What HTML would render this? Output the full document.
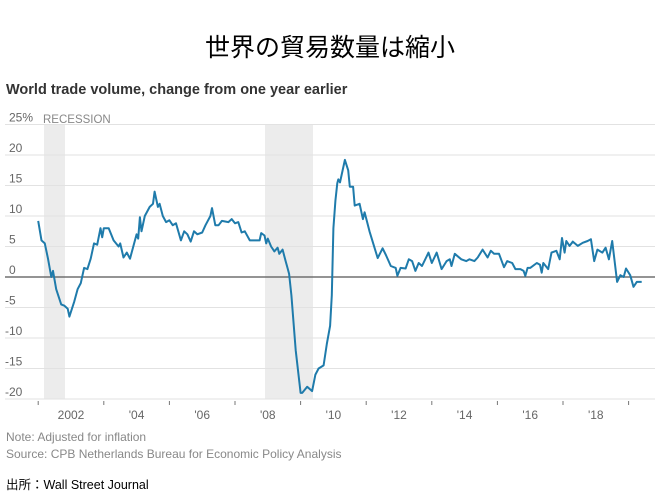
<!DOCTYPE html>
<html><head><meta charset="utf-8"><style>
body{margin:0;background:#fff;width:660px;height:495px;overflow:hidden;font-family:"Liberation Sans","Noto Sans CJK JP",sans-serif}
</style></head><body>
<svg id="s" width="660" height="495" xmlns="http://www.w3.org/2000/svg" font-family="Liberation Sans, Noto Sans CJK JP, sans-serif">
<text x="330" y="56" font-size="25" text-anchor="middle" fill="#000" font-family="Noto Sans CJK JP, sans-serif">世界の貿易数量は縮小</text>
<text x="6" y="94" font-size="14.5" font-weight="bold" fill="#333">World trade volume, change from one year earlier</text>
<rect x="44" y="125" width="21" height="274" fill="#ececec"/>
<rect x="265" y="125" width="48" height="274" fill="#ececec"/>
<g id="grid" stroke="#e2e2e2" stroke-width="1"></g>
<g id="lab" font-size="12" fill="#666"></g>
<text x="43" y="123" font-size="11.5" fill="#888">RECESSION</text>
<line x1="5" y1="277" x2="655" y2="277" stroke="#555" stroke-width="1.2"/>
<path id="p" fill="none" stroke="#1f7bab" stroke-width="2" stroke-linejoin="round"/>
<text x="6" y="441" font-size="12" fill="#888">Note: Adjusted for inflation</text>
<text x="6" y="458" font-size="12" fill="#888">Source: CPB Netherlands Bureau for Economic Policy Analysis</text>
<text x="6" y="489" font-size="12.5" fill="#000">出所：Wall Street Journal</text>
</svg>
<script>
var ns="http://www.w3.org/2000/svg";
function X(y){return 71+(y-2002)*32.8}
function Y(v){return 277-v*6.1}
var g=document.getElementById('grid'),l=document.getElementById('lab');
function el(p,t,a,txt){var e=document.createElementNS(ns,t);for(var k in a)e.setAttribute(k,a[k]);if(txt)e.textContent=txt;p.appendChild(e);}
[25,20,15,10,5,-5,-10,-15,-20].forEach(function(v){el(g,'line',{x1:5,x2:655,y1:Y(v),y2:Y(v)});});
[25,20,15,10,5,0,-5,-10,-15,-20].forEach(function(v){el(l,'text',{x:v<0?5:9,y:Y(v)-3},v==25?'25%':String(v));});
for(var yr=2001;yr<=2019;yr++){
 if(yr%2==0)el(l,'text',{x:X(yr),y:419,'text-anchor':'middle'},yr==2002?'2002':"'"+String(yr).slice(2));
 else el(l,'line',{x1:X(yr),x2:X(yr),y1:401,y2:405,stroke:'#777','stroke-width':1});}
var d=[[2001.0,9.2],[2001.1,6],[2001.2,5.5],[2001.3,3],[2001.4,0],[2001.45,1],[2001.55,-2],[2001.7,-4.5],[2001.8,-4.7],[2001.9,-5.2],[2001.95,-6.5],[2002.1,-4],[2002.2,-2],[2002.3,-1],[2002.4,1.5],[2002.5,1.3],[2002.6,3],[2002.7,5.5],[2002.8,5.3],[2002.9,8],[2002.95,6.5],[2003.0,8],[2003.15,8],[2003.3,6],[2003.45,5],[2003.5,5.5],[2003.6,3.2],[2003.7,4],[2003.8,3],[2003.9,5],[2004.0,7],[2004.05,6.3],[2004.1,9.8],[2004.15,7.5],[2004.25,10],[2004.4,11.5],[2004.5,12],[2004.55,14],[2004.65,11.5],[2004.7,12],[2004.8,10],[2004.9,9],[2005.0,9.3],[2005.1,8.5],[2005.2,8.8],[2005.35,6],[2005.45,7.5],[2005.55,7],[2005.65,5.8],[2005.75,7.5],[2005.85,7],[2006.0,7.3],[2006.1,8.5],[2006.25,10],[2006.3,11.3],[2006.4,8.5],[2006.5,8.5],[2006.6,9.2],[2006.8,9],[2006.9,9.5],[2007.0,8.8],[2007.1,9],[2007.2,7.3],[2007.3,7.5],[2007.45,6],[2007.6,6],[2007.75,6],[2007.8,7.2],[2007.9,6.8],[2007.95,5.5],
[2008.0,6.3],[2008.1,5],[2008.2,4.2],[2008.3,4.8],[2008.35,3.8],[2008.45,4.5],[2008.5,3.5],[2008.55,2.5],[2008.6,1.5],[2008.65,0.5],[2008.72,-3],[2008.85,-12],[2009.0,-19],[2009.05,-19],[2009.2,-18],[2009.35,-18.7],[2009.45,-16],[2009.55,-15],[2009.7,-14.5],[2009.8,-11],[2009.9,-8],[2009.95,-3],[2010.0,8],
[2010.06,12.5],[2010.12,15.4],[2010.15,16],[2010.2,15.5],[2010.35,19.2],[2010.45,17.5],[2010.5,14.8],[2010.6,14.8],[2010.65,11.7],[2010.8,12],[2010.9,9.5],[2010.95,10.6],[2011.1,7.5],[2011.35,3.1],[2011.5,4.7],[2011.6,3.6],[2011.75,1.8],[2011.9,1.5],[2011.95,0.2],[2012.05,1.5],[2012.2,1.4],[2012.3,2.9],[2012.4,2.6],[2012.5,1],[2012.6,2.3],[2012.7,1.8],[2012.9,4],[2013.0,2.3],[2013.15,4],[2013.3,1.3],[2013.45,2.6],[2013.55,2.9],[2013.6,1.8],[2013.7,3.8],[2013.9,2.9],[2014.05,2.6],[2014.15,2.9],[2014.3,2.6],[2014.4,3.2],[2014.55,4.5],[2014.7,3.2],[2014.8,4.3],[2014.9,3.8],[2015.05,3.8],[2015.2,1.6],[2015.3,2.6],[2015.45,2.3],[2015.55,1.3],[2015.7,1.3],[2015.8,1],[2015.85,0.2],[2015.92,1.5],[2016.0,1.5],[2016.2,2.3],[2016.3,2],[2016.35,0.7],[2016.4,2.3],[2016.55,1.3],[2016.65,4],[2016.8,4.3],[2016.9,2.9],[2016.97,6.4],[2017.05,4],[2017.1,5.9],[2017.2,5.1],[2017.3,5.8],[2017.45,5.1],[2017.6,5.6],[2017.75,5.9],[2017.85,6.2],[2017.95,2.6],[2018.05,4.5],[2018.2,4],[2018.3,4.8],[2018.4,2.9],[2018.5,5.9],[2018.65,-0.8],[2018.75,0.3],[2018.85,0],[2018.92,1.4],[2019.05,0.3],[2019.15,-1.6],[2019.25,-0.8],[2019.4,-0.8]];
document.getElementById('p').setAttribute('d',d.map(function(p,i){return (i?'L':'M')+X(p[0]).toFixed(1)+' '+Y(p[1]).toFixed(1)}).join(''));
</script>
</body></html>
